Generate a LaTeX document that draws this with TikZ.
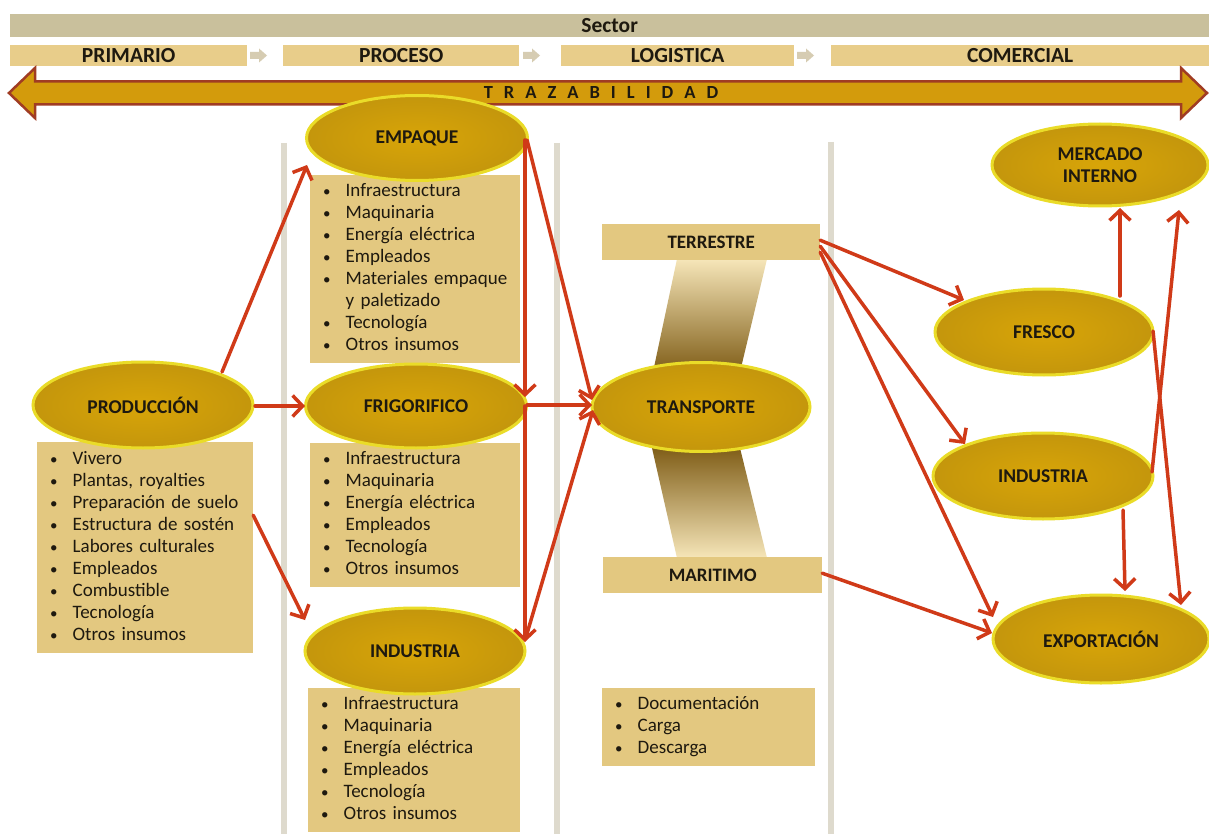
\documentclass[tikz,border=0pt]{standalone}
\usepackage{fontspec}
\setmainfont{Carlito}
\usetikzlibrary{arrows.meta,calc,shapes.geometric}
\definecolor{sectorc}{RGB}{201,192,156}
\definecolor{phasec}{RGB}{232,205,138}
\definecolor{smallarr}{RGB}{214,204,178}
\definecolor{trazfill}{RGB}{211,155,12}
\definecolor{trazdraw}{RGB}{160,60,35}
\definecolor{ellfill}{RGB}{216,165,8}
\definecolor{ellouter}{RGB}{196,150,12}
\definecolor{elldraw}{RGB}{234,220,40}
\definecolor{boxc}{RGB}{227,200,128}
\definecolor{sepc}{RGB}{222,218,205}
\definecolor{arrc}{RGB}{208,58,24}
\definecolor{txt}{RGB}{30,25,15}
\definecolor{bandlight}{RGB}{246,230,185}
\definecolor{banddark}{RGB}{128,94,24}
\newcommand{\tzsp}{\hspace{11pt}}
\newcommand{\bul}{{\fontsize{15}{15}\selectfont\textbullet}}
\begin{document}
\begin{tikzpicture}[x=1pt,y=-1pt,
  arr/.style={draw=arrc, line width=3.5pt, line cap=round,
    -{Straight Barb[length=10pt,width=21pt,line width=3.5pt]}},
  ell/.style={ellipse, inner color=ellfill, outer color=ellouter, draw=elldraw, line width=3pt, inner sep=0pt,
    font=\bfseries\fontsize{19.5}{22.5}\selectfont, text=txt, align=center},
  lbox/.style={rectangle, fill=boxc, anchor=north west, inner xsep=13pt, inner ysep=0pt,
    align=left, font=\fontsize{19}{22}\selectfont, text=txt},
  phase/.style={rectangle, fill=phasec, anchor=north west, inner sep=0pt,
    minimum height=21pt, font=\bfseries\fontsize{21.5}{22}\selectfont, text=txt},
  tbox/.style={rectangle, fill=boxc, anchor=north west, inner sep=0pt,
    minimum height=36pt, font=\bfseries\fontsize{19}{21}\selectfont, text=txt},
  sep/.style={draw=sepc, line width=6.5pt},
  small/.style={fill=smallarr}
]
\useasboundingbox (0,0) rectangle (1209,834);
\fill[white] (0,0) rectangle (1209,834);

% header
\node[rectangle, fill=sectorc, anchor=north west, inner sep=0pt, minimum width=1199pt,
  minimum height=23pt, font=\bfseries\fontsize{21.5}{22}\selectfont, text=txt] (sector) at (10,14) {Sector\hspace{16pt}};
\node[phase, minimum width=237pt] (primario) at (10,45) {PRIMARIO};
\node[phase, minimum width=236pt] (proceso) at (283,45) {PROCESO};
\node[phase, minimum width=233pt] (logistica) at (561,45) {LOGISTICA};
\node[phase, minimum width=378pt] (comercial) at (831,45) {COMERCIAL};
\foreach \x in {250,523,797}{
  \fill[small] (\x,52) -- (\x+9,52) -- (\x+9,48.5) -- (\x+17,55.5) -- (\x+9,62.5) -- (\x+9,59) -- (\x,59) -- cycle;
}

% trazabilidad double arrow
\draw[fill=trazfill, draw=trazdraw, line width=2.5pt, line join=miter]
  (9,93) -- (35,68) -- (35,81.5) -- (1181,81.5) -- (1181,68) -- (1207,93)
  -- (1181,118) -- (1181,104.5) -- (35,104.5) -- (35,118) -- cycle;
\node[font=\bfseries\fontsize{18.5}{20}\selectfont, text=txt, inner sep=0pt] (traz) at (601,92.5)
  {T\tzsp R\tzsp A\tzsp Z\tzsp A\tzsp B\tzsp I\tzsp L\tzsp I\tzsp D\tzsp A\tzsp D};

% separators
\draw[sep] (284,143) -- (284,834);
\draw[sep] (557,143) -- (557,834);
\draw[sep] (831,142) -- (831,834);

% list boxes
\node[lbox, text width=190pt, minimum height=211pt] (prodlist) at (37,442) {%
\begin{tabular}{@{}l@{\hspace{15pt}}l@{}}
\bul & Vivero\\
\bul & Plantas, royalties\\
\bul & Preparación de suelo\\
\bul & Estructura de sostén\\
\bul & Labores culturales\\
\bul & Empleados\\
\bul & Combustible\\
\bul & Tecnología\\
\bul & Otros insumos
\end{tabular}};
\node[lbox, text width=184pt, minimum height=188pt] (emplist) at (310,175) {%
\begin{tabular}{@{}l@{\hspace{15pt}}l@{}}
\bul & Infraestructura\\
\bul & Maquinaria\\
\bul & Energía eléctrica\\
\bul & Empleados\\
\bul & Materiales empaque\\
 & y paletizado\\
\bul & Tecnología\\
\bul & Otros insumos
\end{tabular}};
\node[lbox, text width=184pt, minimum height=144pt] (friglist) at (310,443) {%
\begin{tabular}{@{}l@{\hspace{15pt}}l@{}}
\bul & Infraestructura\\
\bul & Maquinaria\\
\bul & Energía eléctrica\\
\bul & Empleados\\
\bul & Tecnología\\
\bul & Otros insumos
\end{tabular}};
\node[lbox, text width=186pt, minimum height=144pt] (indlist) at (308,688) {%
\begin{tabular}{@{}l@{\hspace{15pt}}l@{}}
\bul & Infraestructura\\
\bul & Maquinaria\\
\bul & Energía eléctrica\\
\bul & Empleados\\
\bul & Tecnología\\
\bul & Otros insumos
\end{tabular}};
\node[lbox, text width=187pt, minimum height=78pt] (loglist) at (602,688) {%
\begin{tabular}{@{}l@{\hspace{15pt}}l@{}}
\bul & Documentación\\
\bul & Carga\\
\bul & Descarga
\end{tabular}};

% transport bands
\shade[top color=bandlight, bottom color=banddark] (677,259) -- (767,259) -- (740,372) -- (653,372) -- cycle;
\shade[top color=banddark, bottom color=bandlight] (652,448) -- (740,448) -- (767,558) -- (677,558) -- cycle;

\node[tbox, minimum width=218pt] (terr) at (602,224) {TERRESTRE};
\node[tbox, minimum width=219pt] (mari) at (603,557) {MARITIMO};

% ellipses
\node[ell, minimum width=220pt, minimum height=86pt] (prod) at (143,405) {PRODUCCIÓN};
\node[ell, minimum width=221pt, minimum height=85pt] (empaque) at (417,138) {EMPAQUE};
\node[ell, minimum width=221pt, minimum height=84pt] (frig) at (416,406) {FRIGORIFICO};
\node[ell, minimum width=220pt, minimum height=86pt] (indm) at (415,651) {INDUSTRIA};
\node[ell, minimum width=218pt, minimum height=89pt] (transp) at (701,407) {TRANSPORTE};
\node[ell, minimum width=216pt, minimum height=82pt] (merc) at (1100,165) {MERCADO\\INTERNO};
\node[ell, minimum width=218pt, minimum height=86pt] (fresco) at (1044,332) {FRESCO};
\node[ell, minimum width=220pt, minimum height=86pt] (indr) at (1043,476) {INDUSTRIA};
\node[ell, minimum width=216pt, minimum height=88pt] (exp) at (1101,639) {EXPORTACIÓN};

% connectors
\draw[arr] ($(prod.center)+(79,-33)$) -- ($(empaque.center)+(-110,27)$);
\draw[arr] ($(prod.center)+(112,1)$) -- ($(frig.center)+(-111,0)$);
\draw[arr] ($(prodlist.center)+(108,-32.5)$) -- ($(indm.center)+(-110,-31)$);
\draw[arr] ($(empaque.center)+(110,2)$) -- ($(transp.center)+(-109,-7)$);
\draw[arr] ($(empaque.center)+(108,2)$) -- ($(frig.center)+(109,-9)$);
\draw[arr] ($(frig.center)+(111,-1)$) -- ($(transp.center)+(-109,-2)$);
\draw[arr] ($(frig.center)+(109,0)$) -- ($(indm.center)+(110,-9)$);
\draw[arr] ($(indm.center)+(111,-14)$) -- ($(transp.center)+(-108,3)$);
\draw[arr] ($(terr.center)+(109,-2)$) -- ($(fresco.center)+(-80,-32)$);
\draw[arr] ($(terr.center)+(109,4)$) -- ($(indr.center)+(-78,-32)$);
\draw[arr] ($(terr.center)+(109,10)$) -- ($(exp.center)+(-108,-22)$);
\draw[arr] ($(mari.center)+(109.5,-2)$) -- ($(exp.center)+(-109,-6)$);
\draw[arr] ($(fresco.center)+(76,-36)$) -- ($(merc.center)+(20,43)$);
\draw[arr] ($(indr.center)+(109,-4)$) -- ($(merc.center)+(79,45)$);
\draw[arr] ($(fresco.center)+(109,-1)$) -- ($(exp.center)+(80,-34)$);
\draw[arr] ($(indr.center)+(80,34)$) -- ($(exp.center)+(24,-48)$);
\end{tikzpicture}
\end{document}
